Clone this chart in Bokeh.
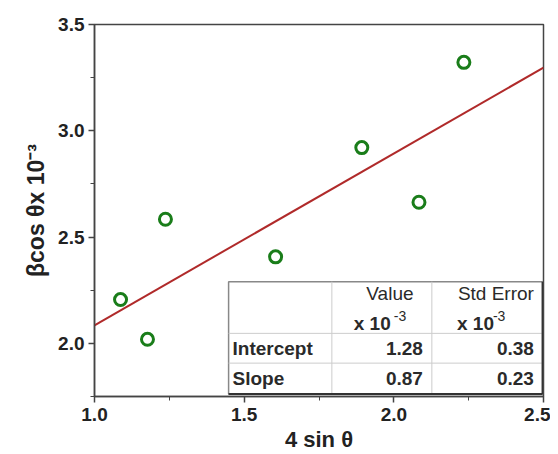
from bokeh.plotting import figure
from bokeh.models import Range1d, FixedTicker, Title
from bokeh.core.properties import value
from bokeh.embed import file_html
from bokeh.resources import INLINE

# data
x_vals = [1.087, 1.177, 1.237, 1.605, 1.893, 2.084, 2.234]
y_vals = [2.206, 2.019, 2.584, 2.407, 2.921, 2.664, 3.322]
fit_x = [1.0, 2.5]
fit_y = [2.085, 3.297]
row_names = ["Intercept", "Slope"]
row_values = ["1.28", "0.87"]
row_errors = ["0.38", "0.23"]
col_headers = ["Value", "Std Error"]
x_ticks = [1.0, 1.5, 2.0, 2.5]
y_ticks = [2.0, 2.5, 3.0, 3.5]
x_title = "4 sin θ"
y_title = "βcos θx 10⁻³"

FONT = value("Liberation Sans")

p = figure(width=550, height=454, output_backend="svg", toolbar_location=None,
           x_range=Range1d(1.0, 2.5), y_range=Range1d(1.75, 3.5),
           min_border_left=94, min_border_right=7, min_border_top=24, min_border_bottom=54)
p.grid.visible = False
p.outline_line_color = "#444444"
p.outline_line_width = 1.5
p.background_fill_color = "white"

for ax in (p.xaxis[0], p.yaxis[0]):
    ax.axis_line_color = "#444444"
    ax.axis_line_width = 1.5
    ax.major_tick_line_color = "#444444"
    ax.minor_tick_line_color = "#444444"
    ax.major_tick_line_width = 1.5
    ax.major_tick_in = 0
    ax.major_tick_out = 6
    ax.minor_tick_in = 0
    ax.minor_tick_out = 4
    ax.major_label_text_font = "Liberation Sans"
    ax.major_label_text_font_style = "bold"
    ax.major_label_text_font_size = "19px"
    ax.major_label_text_color = "#222222"
    ax.axis_label_text_font = "Liberation Sans"
    ax.axis_label_text_font_style = "bold"
    ax.axis_label_text_font_size = "22px"
    ax.axis_label_text_color = "#222222"

p.xaxis[0].ticker = FixedTicker(ticks=x_ticks, minor_ticks=[1.25, 1.75, 2.25])
p.yaxis[0].ticker = FixedTicker(ticks=y_ticks, minor_ticks=[1.75, 2.25, 2.75, 3.25])
p.xaxis[0].major_label_overrides = {t: f"{t:.1f}" for t in x_ticks}
p.yaxis[0].major_label_overrides = {t: f"{t:.1f}" for t in y_ticks}
p.xaxis.axis_label = x_title
p.xaxis.axis_label_standoff = 3
p.xaxis.major_label_standoff = 5
p.yaxis.major_label_standoff = 4

# y axis title as a left-side title so it can be shifted upward like the reference
p.add_layout(Title(text=y_title, align="center", offset=40, standoff=13,
                   text_font="Liberation Sans", text_font_style="bold",
                   text_font_size="23px", text_color="#222222"), "left")

# fit line
p.line(fit_x, fit_y, line_color="#b02a2a", line_width=2)

# points
p.scatter(x_vals, y_vals, marker="circle", size=12, fill_color=None,
          line_color="#1a7d1a", line_width=3)

# table (data coordinates)
tx0, tx1, tx2, tx3 = 1.448, 1.793, 2.127, 2.497
ty0, ty1, ty2, ty3 = 2.290, 2.047, 1.907, 1.762
p.quad(left=[tx0], right=[tx3], top=[ty0], bottom=[ty3], fill_color="white",
       line_color="#888888", line_width=1.5)
p.segment(x0=[tx1, tx2, tx0, tx0], y0=[ty0, ty0, ty1, ty2],
          x1=[tx1, tx2, tx3, tx3], y1=[ty3, ty3, ty1, ty2],
          line_color="#cccccc", line_width=1)
p.segment(x0=[tx3, tx0], y0=[ty0, ty3], x1=[tx3, tx3], y1=[ty3, ty3],
          line_color="#333333", line_width=2)

TC = "#2a2a2a"
p.text(x=[1.987, 2.341], y=[2.233, 2.233], text=col_headers, text_font=FONT,
       text_font_size="19px", text_align="center", text_baseline="middle", text_color=TC)
p.text(x=[1.866, 2.211], y=[2.093, 2.093], text=["x 10", "x 10"], text_font=FONT,
       text_font_size="19px", text_font_style="bold", text_align="left",
       text_baseline="middle", text_color=TC)
p.text(x=[2.000, 2.331], y=[2.131, 2.131], text=["-3", "-3"], text_font=FONT,
       text_font_size="14px", text_align="left",
       text_baseline="middle", text_color=TC)
p.text(x=[1.461, 1.461], y=[1.977, 1.836], text=row_names, text_font=FONT,
       text_font_size="19px", text_font_style="bold", text_align="left",
       text_baseline="middle", text_color=TC)
p.text(x=[2.097, 2.097], y=[1.977, 1.836], text=row_values, text_font=FONT,
       text_font_size="19px", text_font_style="bold", text_align="right",
       text_baseline="middle", text_color=TC)
p.text(x=[2.468, 2.468], y=[1.977, 1.836], text=row_errors, text_font=FONT,
       text_font_size="19px", text_font_style="bold", text_align="right",
       text_baseline="middle", text_color=TC)

open("out.html", "w").write(file_html(p, INLINE))
